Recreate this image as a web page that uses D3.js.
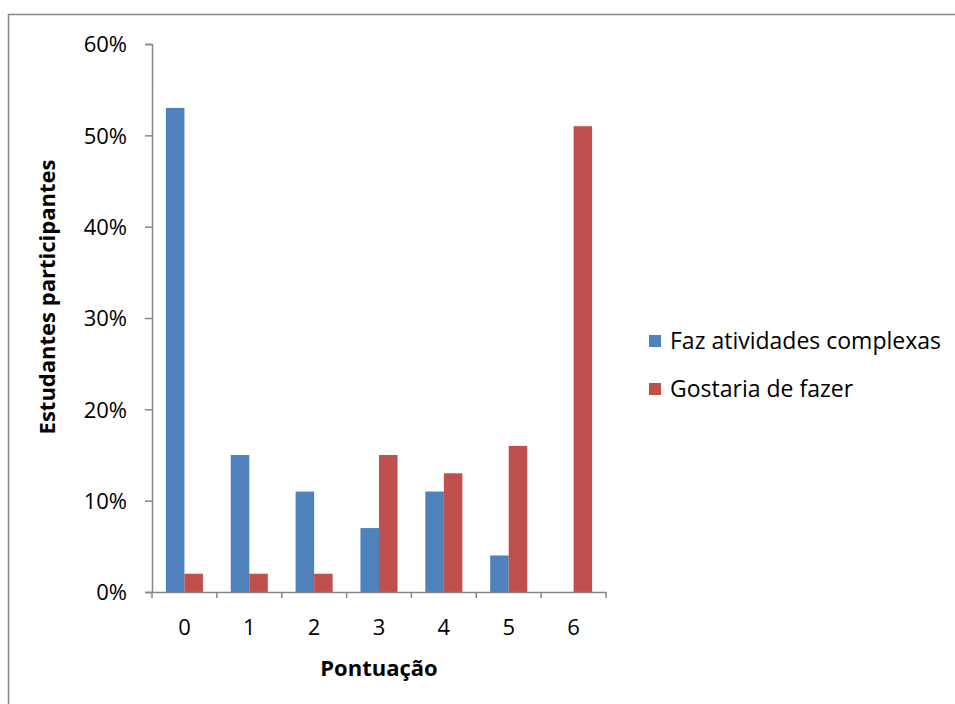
<!DOCTYPE html>
<html><head><meta charset="utf-8">
<script src="https://cdn.jsdelivr.net/npm/d3@7"></script>
<style>body{margin:0;background:#fff}svg{display:block}</style>
</head><body>
<script>
const categories = ["0","1","2","3","4","5","6"];
const seriesNames = ["Faz atividades complexas","Gostaria de fazer"];
const fazValues = [53,15,11,7,11,4,0];
const gostariaValues = [2,2,2,15,13,16,51];
const yTicks = [0,10,20,30,40,50,60];
const colors = ["#4F81BD","#C0504D"];

const W=955,H=704;
const svg=d3.select("body").append("svg").attr("width",W).attr("height",H);
svg.append("rect").attr("x",8.5).attr("y",14.5).attr("width",960).attr("height",720)
  .attr("fill","#fff").attr("stroke","#888").attr("stroke-width",1.5);

const font="'Open Sans', sans-serif";
const fs=22;
const x0=d3.scaleBand().domain(categories).range([152,606]);
const groupW=x0.bandwidth()*2/3.5;
const x1=d3.scaleBand().domain([0,1]).range([0,groupW]);
const y=d3.scaleLinear().domain([0,60]).range([592,44]);

const data=categories.map((c,i)=>({c,v:[fazValues[i],gostariaValues[i]]}));
const g=svg.append("g");
g.selectAll("g.cat").data(data).join("g")
  .attr("transform",d=>`translate(${x0(d.c)+(x0.bandwidth()-groupW)/2},0)`)
  .selectAll("rect").data(d=>d.v.map((v,k)=>({v,k}))).join("rect")
  .attr("x",d=>x1(d.k)).attr("width",x1.bandwidth())
  .attr("y",d=>y(d.v)).attr("height",d=>y(0)-y(d.v))
  .attr("fill",d=>colors[d.k]);

// y axis
const ya=svg.append("g").attr("transform","translate(152,0)")
  .call(d3.axisLeft(y).tickValues(yTicks).tickFormat(d=>d+"%").tickSizeOuter(0).tickSize(7).tickPadding(18));
ya.select(".domain").attr("stroke","#868686").attr("stroke-width",1.5);
ya.selectAll(".tick line").attr("stroke","#868686").attr("stroke-width",1.5);
ya.selectAll("text").attr("font-family",font).attr("font-size",fs).attr("fill","#000").attr("dy","0.36em");

// x axis
const xa=svg.append("g").attr("transform","translate(0,592)")
  .call(d3.axisBottom(x0).tickSize(0).tickPadding(27));
xa.select(".domain").attr("stroke","#868686").attr("stroke-width",1.5);
xa.selectAll("text").attr("font-family",font).attr("font-size",fs).attr("fill","#000");
const xt=categories.map(c=>x0(c)).concat([606]);
svg.append("g").selectAll("line").data(xt).join("line")
  .attr("x1",d=>d).attr("x2",d=>d).attr("y1",592).attr("y2",598)
  .attr("stroke","#868686").attr("stroke-width",1.5);

svg.append("text").attr("x",379).attr("y",676).attr("text-anchor","middle")
  .attr("font-family",font).attr("font-weight","bold").attr("font-size",fs).text("Pontuação");
svg.append("text").attr("transform","translate(55,297) rotate(-90)").attr("text-anchor","middle")
  .attr("font-family",font).attr("font-weight","bold").attr("font-size",fs).text("Estudantes participantes");

const lg=svg.append("g");
seriesNames.forEach((n,i)=>{
  lg.append("rect").attr("x",649).attr("y",335+i*48).attr("width",12).attr("height",12).attr("fill",colors[i]);
  lg.append("text").attr("x",670).attr("y",349+i*48).attr("font-family",font).attr("font-size",23).text(n);
});
</script>
</body></html>
